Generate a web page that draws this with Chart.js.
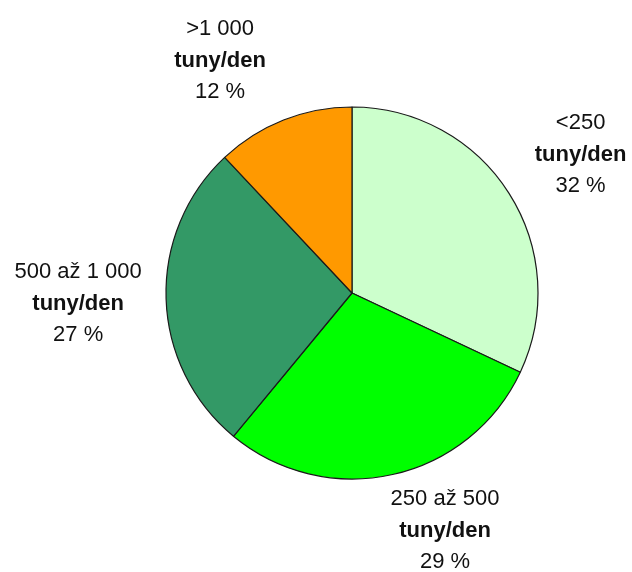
<!DOCTYPE html>
<html>
<head>
<meta charset="utf-8">
<script src="https://cdn.jsdelivr.net/npm/chart.js@4/dist/chart.umd.min.js"></script>
<style>
  html, body { margin: 0; padding: 0; background: #ffffff; }
  #wrap { width: 632px; height: 572px; position: relative; }
</style>
</head>
<body>
<div id="wrap"><canvas id="c" width="632" height="572"></canvas></div>
<script>
// Capacity classes (first label line) and their shares in percent
const categories = ['<250', '250 až 500', '500 až 1 000', '>1 000'];
const unitLabel = 'tuny/den';
const shares = [32, 29, 27, 12];
const sliceColors = ['#CCFFCC', '#00FF00', '#339966', '#FF9900'];

// Fine nudges (px) applied to each label block after placing it along its slice's mid angle
const labelNudge = [[4, 4], [35, -22], [-8, 3], [-34, 15]];

const outsideLabels = {
  id: 'outsideLabels',
  afterDatasetsDraw(chart) {
    const ctx = chart.ctx;
    const meta = chart.getDatasetMeta(0);
    const regular = '22px "Liberation Sans", Arial, sans-serif';
    const bold = 'bold 22px "Liberation Sans", Arial, sans-serif';
    ctx.save();
    ctx.fillStyle = '#111111';
    ctx.textAlign = 'center';
    ctx.textBaseline = 'middle';
    meta.data.forEach((arc, i) => {
      const p = arc.getProps(['x', 'y', 'startAngle', 'endAngle', 'outerRadius'], true);
      const mid = (p.startAngle + p.endAngle) / 2;
      const d = p.outerRadius + 80;
      const x = p.x + Math.cos(mid) * d + labelNudge[i][0];
      const y = p.y + Math.sin(mid) * d + labelNudge[i][1];
      ctx.font = regular;
      ctx.fillText(categories[i], x, y - 32);
      ctx.font = bold;
      ctx.fillText(unitLabel, x, y);
      ctx.font = regular;
      ctx.fillText(shares[i] + ' %', x, y + 31);
    });
    ctx.restore();
  }
};

new Chart(document.getElementById('c'), {
  type: 'pie',
  data: {
    labels: categories,
    datasets: [{
      data: shares,
      backgroundColor: sliceColors,
      borderColor: '#1a1a1a',
      borderWidth: 1.2
    }]
  },
  options: {
    responsive: false,
    animation: false,
    radius: 186,
    layout: { padding: { left: 80, right: 8, top: 20, bottom: 6 } },
    plugins: {
      legend: { display: false },
      tooltip: { enabled: false }
    }
  },
  plugins: [outsideLabels]
});
</script>
</body>
</html>
